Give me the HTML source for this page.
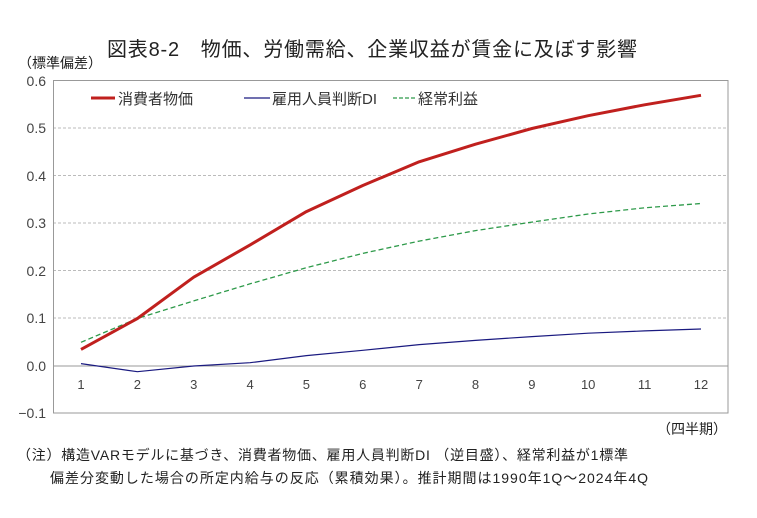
<!DOCTYPE html>
<html><head><meta charset="utf-8"><style>
html,body{margin:0;padding:0;background:#fff;}
svg{display:block;font-family:"Liberation Sans","Noto Sans CJK JP",sans-serif;}
</style></head><body>
<svg width="757" height="518" viewBox="0 0 757 518" xmlns="http://www.w3.org/2000/svg">
<rect width="757" height="518" fill="#fff"/>
<text x="107" y="56" font-size="20" fill="#222" textLength="530" lengthAdjust="spacing">図表8-2　物価、労働需給、企業収益が賃金に及ぼす影響</text>
<text x="18" y="68" font-size="14" fill="#222">（標準偏差）</text>
<g stroke="#bbb" stroke-width="1" stroke-dasharray="3,2">
<line x1="53" y1="128" x2="728" y2="128"/>
<line x1="53" y1="175.5" x2="728" y2="175.5"/>
<line x1="53" y1="223" x2="728" y2="223"/>
<line x1="53" y1="270.5" x2="728" y2="270.5"/>
<line x1="53" y1="318" x2="728" y2="318"/>
<line x1="53" y1="80.5" x2="728" y2="80.5"/>
</g>
<line x1="53" y1="366" x2="728" y2="366" stroke="#999" stroke-width="1"/>
<rect x="53.5" y="80.5" width="674.5" height="332.5" fill="none" stroke="#999" stroke-width="1"/>
<g font-size="14" fill="#444" text-anchor="end">
<text x="46" y="86">0.6</text><text x="46" y="133">0.5</text><text x="46" y="181">0.4</text>
<text x="46" y="228">0.3</text><text x="46" y="276">0.2</text><text x="46" y="323">0.1</text>
<text x="46" y="371">0.0</text><text x="46" y="418">−0.1</text>
</g>
<g font-size="13" fill="#444" text-anchor="middle">
<text x="81" y="389">1</text><text x="137.4" y="389">2</text><text x="193.7" y="389">3</text>
<text x="250.1" y="389">4</text><text x="306.4" y="389">5</text><text x="362.8" y="389">6</text>
<text x="419.2" y="389">7</text><text x="475.5" y="389">8</text><text x="531.9" y="389">9</text>
<text x="588.2" y="389">10</text><text x="644.6" y="389">11</text><text x="701" y="389">12</text>
</g>
<polyline fill="none" stroke="#1a1a80" stroke-width="1.2" points="81,363.6 137.4,371.7 193.7,366 250.1,362.7 306.4,355.6 362.8,350.3 419.2,344.6 475.5,340.4 531.9,336.6 588.2,333.2 644.6,330.9 701,329"/>
<polyline fill="none" stroke="#2e9a4a" stroke-width="1.3" stroke-dasharray="5,3" points="81,342.3 137.4,318.5 193.7,300.9 250.1,283.8 306.4,267.7 362.8,253.4 419.2,241.1 475.5,230.6 531.9,222.1 588.2,214 644.6,207.8 701,203.5"/>
<polyline fill="none" stroke="#c0201e" stroke-width="3" stroke-linejoin="round" points="81,349.4 137.4,318.5 193.7,277.2 250.1,244.9 306.4,211.6 362.8,185.5 419.2,161.8 475.5,144.2 531.9,128.5 588.2,115.7 644.6,104.8 701,95.3"/>
<line x1="91" y1="98" x2="115" y2="98" stroke="#c0201e" stroke-width="3"/>
<text x="118" y="104" font-size="15" fill="#333">消費者物価</text>
<line x1="244" y1="98" x2="270" y2="98" stroke="#1a1a80" stroke-width="1.2"/>
<text x="272" y="104" font-size="15" fill="#333">雇用人員判断DI</text>
<line x1="393" y1="98" x2="415" y2="98" stroke="#2e9a4a" stroke-width="1.3" stroke-dasharray="4,2"/>
<text x="418" y="104" font-size="15" fill="#333">経常利益</text>
<text x="727" y="434" font-size="14" fill="#222" text-anchor="end">（四半期）</text>
<text x="17" y="460" font-size="14" fill="#222" textLength="611" lengthAdjust="spacing">（注）構造VARモデルに基づき、消費者物価、雇用人員判断DI （逆目盛）、経常利益が1標準</text>
<text x="50" y="483" font-size="14" fill="#222" textLength="598" lengthAdjust="spacing">偏差分変動した場合の所定内給与の反応（累積効果）。推計期間は1990年1Q～2024年4Q</text>
</svg>
</body></html>
